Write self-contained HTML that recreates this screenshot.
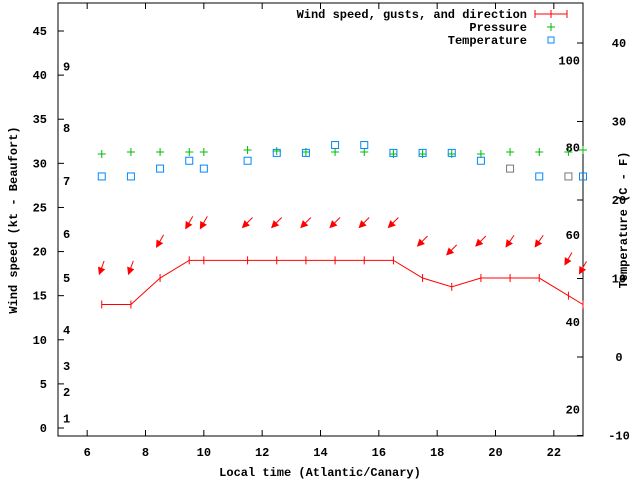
<!DOCTYPE html>
<html><head><meta charset="utf-8"><style>
body{margin:0;background:#fff}
text{font-family:"Liberation Mono","DejaVu Sans Mono",monospace;font-weight:bold;font-size:12px;fill:#000}
</style></head><body>
<svg id="chart" width="640" height="480" xmlns="http://www.w3.org/2000/svg">
<g id="g"></g>
</svg>
<script>
const hours=[6.5,7.5,8.5,9.5,10,11.5,12.5,13.5,14.5,15.5,16.5,17.5,18.5,19.5,20.5,21.5,22.5,23];
const wind=[14,14,17,19,19,19,19,19,19,19,19,17,16,17,17,17,15,14];
const gusts=[18.2,18.2,21.2,23.3,23.3,23.3,23.3,23.3,23.3,23.3,23.3,21.2,20.2,21.2,21.2,21.2,19.2,18.2];
const dirs=[20,20,30,30,30,45,45,45,45,45,45,45,45,45,35,35,30,30];
const pressure=[1017,1018,1018,1018,1018,1019,1018.5,1018,1018,1018,1017,1017,1017,1017,1018,1018,1018,1019];
const temps=[23,23,24,25,24,25,26,26,27,27,26,26,26,25,24,23,23,23];
const tempStale=[0,0,0,0,0,0,0,0,0,0,0,0,0,0,1,0,1,0];
const xTicks=[6,8,10,12,14,16,18,20,22];
const yTicks=[0,5,10,15,20,25,30,35,40,45];
const cTicks=[-10,0,10,20,30,40];
const fTicks=[20,40,60,80,100];
const bftLabels=["1","2","3","4","5","6","7","8","9"];
const bftKt=[1.1,4.1,7,11.1,17,22,28,34,41];

const L=58,R=583,T=3,B=436;
const X=h=>L+(h-5)*(R-L)/18;
const Y=v=>428-v*8.822;
const YC=c=>357-c*7.85;
const YP=p=>152-(p-1018)*2;
const svg=document.getElementById('g');
const NS='http://www.w3.org/2000/svg';
function mk(tag,attrs,txt){const e=document.createElementNS(NS,tag);for(const k in attrs)e.setAttribute(k,attrs[k]);if(txt!==undefined)e.textContent=txt;svg.appendChild(e);return e;}

let e=mk('rect',{x:L,y:T,width:R-L,height:B-T,fill:'none',stroke:'#000','stroke-width':1});



xTicks.forEach(h=>{
 e=mk('path',{d:`M${X(h)} ${B}v-6M${X(h)} ${T}v6`,stroke:'#000'});
 
 
 e=mk('text',{x:X(h),y:B+20,'text-anchor':'middle'},String(h));
 
 
});
yTicks.forEach(v=>{
 e=mk('path',{d:`M${L} ${Y(v)}h6`,stroke:'#000'});
 
 
 e=mk('text',{x:L-11,y:Y(v)+4,'text-anchor':'end'},String(v));
 
 
});
cTicks.forEach(c=>{
 e=mk('path',{d:`M${R} ${YC(c)}h-6`,stroke:'#000'});
 
 
 e=mk('text',{x:R+36,y:YC(c)+4,'text-anchor':'middle'},String(c));
 
 
});
fTicks.forEach(f=>{
 e=mk('text',{x:R-3,y:YC((f-32)*5/9)+4,'text-anchor':'end'},String(f));
 
 
});
bftLabels.forEach((b,i)=>{
 e=mk('text',{x:63,y:Y(bftKt[i])+4},b);
 
 
});
e=mk('text',{x:320,y:476,'text-anchor':'middle'},'Local time (Atlantic/Canary)');


e=mk('text',{x:17,y:220,'text-anchor':'middle',transform:'rotate(-90 17 220)'},'Wind speed (kt - Beaufort)');


e=mk('text',{x:627,y:220,'text-anchor':'middle',transform:'rotate(-90 627 220)'},'Temperature (C - F)');



// wind line
e=mk('polyline',{points:hours.map((h,i)=>X(h)+','+Y(wind[i])).join(' '),fill:'none',stroke:'#f00'});


hours.forEach((h,i)=>{
 e=mk('path',{d:`M${X(h)} ${Y(wind[i])-4}v8`,stroke:'#f00'});
 
 
 // arrow
 const a=dirs[i]*Math.PI/180, len=14;
 const dx=Math.sin(a)*len/2, dy=Math.cos(a)*len/2;
 const cx=X(h), cy=Y(gusts[i]);
 const tx=cx-dx, ty=cy+dy;
 const ux=-Math.sin(a), uy=Math.cos(a);
 const px=-uy, py=ux;
 const hx=tx-ux*6, hy=ty-uy*6;
 e=mk('path',{d:`M${cx+dx} ${cy-dy}L${tx} ${ty}M${tx} ${ty}L${hx+px*3} ${hy+py*3}L${hx-px*3} ${hy-py*3}Z`,stroke:'#f00',fill:'#f00','stroke-width':1});
 
 
 // pressure
 const py2=YP(pressure[i]);
 e=mk('path',{d:`M${X(h)-4} ${py2}h8M${X(h)} ${py2-4}v8`,stroke:'#0b0'});
 
 
 // temperature
 e=mk('rect',{x:X(h)-3.5,y:YC(temps[i])-3.5,width:7,height:7,fill:'none',stroke:tempStale[i]?'#777':'#08f'});
 
 
});

// legend
e=mk('text',{x:527,y:18,'text-anchor':'end'},'Wind speed, gusts, and direction');


e=mk('path',{d:'M535 14h32M535 10v8M551 10v8M567 10v8',stroke:'#f00'});


e=mk('text',{x:527,y:31,'text-anchor':'end'},'Pressure');


e=mk('path',{d:'M547 27h8M551 23v8',stroke:'#0b0'});


e=mk('text',{x:527,y:44,'text-anchor':'end'},'Temperature');


e=mk('rect',{x:548,y:37,width:6,height:6,fill:'none',stroke:'#08f'});


</script>
</body></html>
